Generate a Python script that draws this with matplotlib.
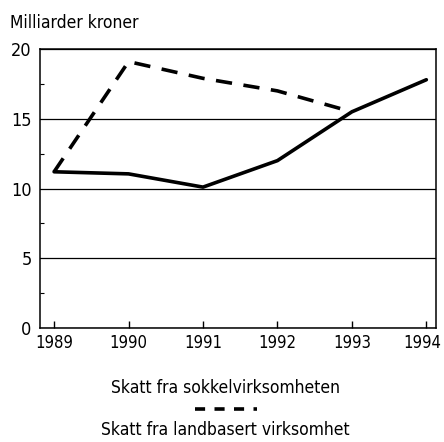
import matplotlib.pyplot as plt
import matplotlib.transforms as mtransforms
from matplotlib.lines import Line2D

# ---------------------- Data ---------------------- #
years = [1989, 1990, 1991, 1992, 1993, 1994]
sokkel = [11.2, 11.05, 10.1, 12.0, 15.5, 17.8]
land_years = [1989, 1990, 1991, 1992, 1993]
landbasert = [11.2, 19.1, 17.9, 17.0, 15.5]
yticks = [0, 5, 10, 15, 20]
label_sokkel = 'Skatt fra sokkelvirksomheten'
label_land = 'Skatt fra landbasert virksomhet'

plt.rcParams['font.family'] = ['DejaVu Sans']
plt.rcParams['font.stretch'] = 'condensed'

fig = plt.figure(figsize=(4.44, 4.42), dpi=100)
ax = fig.add_axes([0.090, 0.258, 0.892, 0.631])

ax.plot(years, sokkel, color='black', lw=2.6, solid_capstyle='round')
ax.plot(land_years, landbasert, color='black', lw=2.6, dashes=(4.5, 3.2))

ax.set_xlim(1988.81, 1994.13)
ax.set_ylim(0, 20)
ax.set_xticks(years)
ax.set_yticks(yticks)
ax.set_yticks([2.5, 7.5, 12.5, 17.5], minor=True)
ax.grid(axis='y', color='black', lw=0.9)
ax.tick_params(axis='x', direction='in', length=5, width=1, pad=4, labelsize=12)
ax.tick_params(axis='y', which='major', length=0, pad=6, labelsize=13)
ax.tick_params(axis='y', which='minor', direction='in', length=3, width=0.8)
for s in ax.spines.values():
    s.set_linewidth(1.1)

# last year label sits tight against the right edge
last = ax.get_xticklabels()[-1]
last.set_transform(last.get_transform() + mtransforms.ScaledTranslation(-4 / 100, 0, fig.dpi_scale_trans))

fig.text(0.022, 0.948, 'Milliarder kroner', fontsize=12.5, va='center', ha='left')

# legend: label, dashed sample, label
fig.text(0.507, 0.122, label_sokkel, fontsize=12.5, ha='center', va='center')
fig.add_artist(Line2D([0.44, 0.578], [0.075, 0.075], color='black', lw=2.6,
                      dashes=(2.8, 2.6), transform=fig.transFigure))
fig.text(0.507, 0.027, label_land, fontsize=12.5, ha='center', va='center')

fig.savefig('out.png', dpi=100)
